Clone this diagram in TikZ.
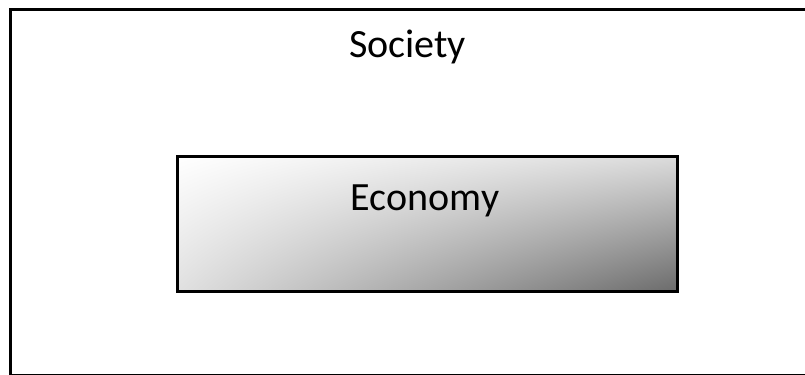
\documentclass[tikz,border=0pt]{standalone}
\usepackage{fontspec}
\setmainfont{Carlito}
\usetikzlibrary{positioning,shadings}

\tikzset{
  frame/.style={rectangle, draw, line width=0.075cm, anchor=north west, inner sep=0pt},
  econbox/.style={frame, line width=0.07cm, shade, upper left=white, upper right=black!14,
    lower left=black!12, lower right=black!58},
}

\begin{document}
\begin{tikzpicture}[x=0.025cm, y=-0.025cm]
    \useasboundingbox (0,0) rectangle (805,375);
    \clip (0,0) rectangle (805,375);
    \node (society) [frame, minimum width=20.3cm, minimum height=9.15cm] at (8.5,7.5) {};
    \node (econ) [econbox, minimum width=12.5cm, minimum height=3.375cm] at (176,155) {};
    \node (societylbl) [anchor=base, font=\fontsize{28.5}{34}\selectfont] at (407.5,58) {Society};
    \node (econlbl) [anchor=base, font=\fontsize{28.5}{34}\selectfont] at (425,210) {Economy};
  \end{tikzpicture}
\end{document}
